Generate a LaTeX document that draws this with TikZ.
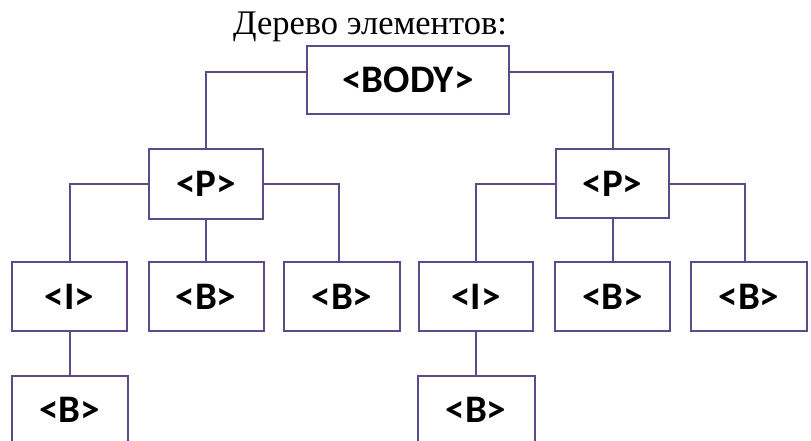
\documentclass[tikz,border=0pt]{standalone}
\usepackage{fontspec}
\setmainfont{Liberation Serif}
\newfontfamily\labfont{Carlito}
\definecolor{lineclr}{HTML}{5E4A87}
\begin{document}
\begin{tikzpicture}[x=1pt,y=-1pt,
  box/.style={draw=lineclr,line width=2pt,fill=white,inner sep=0pt,minimum height=69pt,font=\labfont\bfseries\fontsize{39}{43}\selectfont},
  conn/.style={draw=lineclr,line width=2pt}]
\clip (0,0) rectangle (811,441);
\fill[white] (0,0) rectangle (811,441);
\node[anchor=base,font=\fontsize{34.5}{40}\selectfont] (title) at (370,35) {Дерево элементов:};
\node[box,minimum width=202pt,minimum height=68pt] (body) at (408,80) {<BODY>};
\node[box,minimum width=114pt,minimum height=70pt] (p1) at (206,184) {<P>};
\node[box,minimum width=113pt] (p2) at (612.5,183.5) {<P>};
\node[box,minimum width=115pt] (i1) at (69.5,296.5) {<I>};
\node[box,minimum width=115pt] (b1) at (206,296.5) {<B>};
\node[box,minimum width=116pt] (b2) at (342,296.5) {<B>};
\node[box,minimum width=114pt] (i2) at (476,296.5) {<I>};
\node[box,minimum width=115pt] (b3) at (612.5,296.5) {<B>};
\node[box,minimum width=116pt] (b4) at (749,296.5) {<B>};
\node[box,minimum width=116pt] (b5) at (69.5,410) {<B>};
\node[box,minimum width=117pt] (b6) at (476,410) {<B>};
\draw[conn] ([yshift=8pt]body.west) -| (p1.north);
\draw[conn] ([yshift=8pt]body.east) -| (p2.north);
\draw[conn] (p1.west) -| (i1.north);
\draw[conn] (p1.south) -- (b1.north);
\draw[conn] (p1.east) -| ([xshift=-3pt]b2.north);
\draw[conn] (p2.west) -| (i2.north);
\draw[conn] (p2.south) -- (b3.north);
\draw[conn] (p2.east) -| ([xshift=-4pt]b4.north);
\draw[conn] (i1.south) -- (b5.north);
\draw[conn] (i2.south) -- (b6.north);
\end{tikzpicture}
\end{document}
